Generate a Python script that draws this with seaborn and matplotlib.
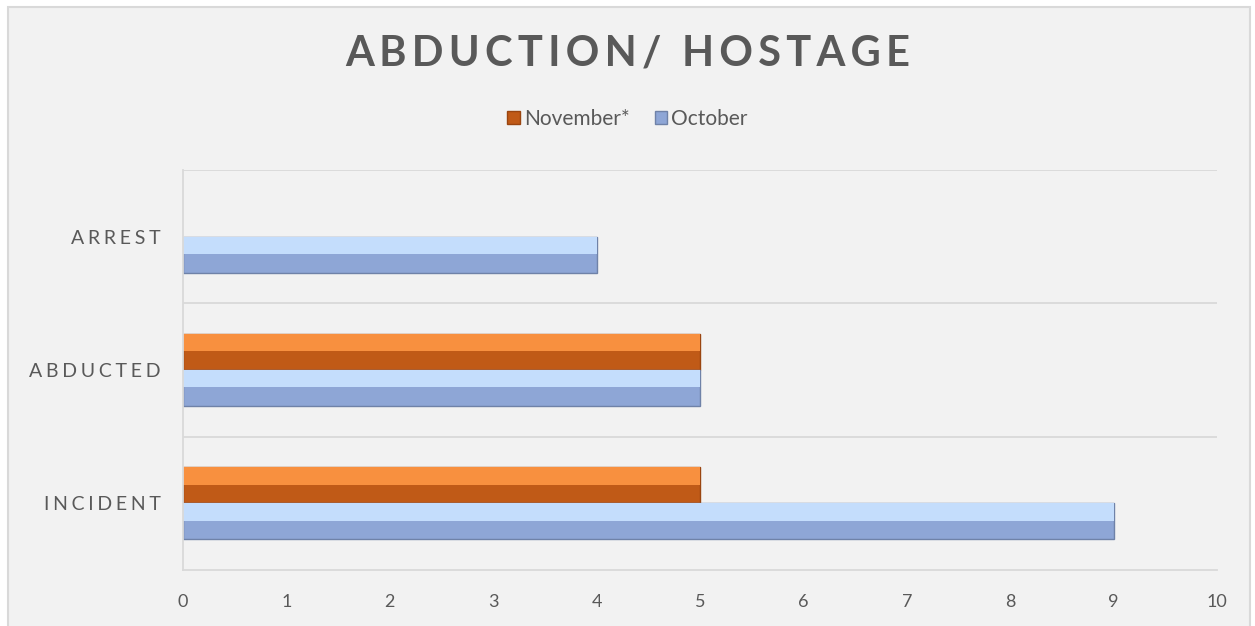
import matplotlib
matplotlib.use("Agg")
import matplotlib.pyplot as plt
import matplotlib.patches as mpatches
import seaborn as sns
import pandas as pd

# données
categories = ["ARREST", "ABDUCTED", "INCIDENT"]
series_names = ["November*", "October"]
november = [0, 5, 5]
october = [4, 5, 9]
x_ticks = list(range(0, 11))

df = pd.DataFrame({
    "cat": categories * 2,
    "mois": [series_names[0]] * 3 + [series_names[1]] * 3,
    "val": november + october,
})

base_cols = {"November*": "#C05A17", "October": "#8EA6D6"}
light_cols = {"November*": "#F8903F", "October": "#C4DDFC"}
edge_cols = {"November*": "#9A4510", "October": "#6F82A8"}

sns.set_style("white")
plt.rcParams["font.family"] = ["Lato", "DejaVu Sans"]

fig = plt.figure(figsize=(12.55, 6.26), dpi=100, facecolor="white")
# cadre du graphique (fond gris, bordure claire)
fig.add_artist(mpatches.Rectangle((8 / 1255, -0.01), (1250 - 8) / 1255, 1 - 7 / 626 + 0.01,
                                  transform=fig.transFigure, facecolor="#F2F2F2",
                                  edgecolor="#D9D9D9", lw=1.5, zorder=-10))

ax = fig.add_axes([183 / 1255, 1 - 570 / 626, (1217 - 183) / 1255, 400 / 626])
ax.set_facecolor("none")

sns.barplot(data=df, x="val", y="cat", hue="mois", hue_order=series_names,
            order=categories, palette=base_cols, width=0.54, orient="h",
            ax=ax, legend=False, saturation=1)

# effet biseauté : bande claire en haut de chaque barre
n = len(categories)
for i, p in enumerate(list(ax.patches)):
    key = series_names[i // n]
    w = p.get_width()
    if w <= 0:
        p.set_visible(False)
        continue
    p.set_edgecolor(edge_cols[key])
    p.set_linewidth(1.0)
    x0, y0, h = p.get_x(), p.get_y(), p.get_height()
    ax.add_patch(mpatches.Rectangle((x0, y0), w, h * 0.48,
                                    facecolor=light_cols[key], edgecolor="none",
                                    zorder=p.get_zorder() + 0.1))

ax.set_xlim(0, 10)
ax.set_ylim(2.5, -0.5)
ax.set_xticks(x_ticks)
ax.set_xticklabels([str(t) for t in x_ticks], fontsize=13, color="#595959")
ax.set_yticks(range(n))
ax.set_yticklabels(["\u2009\u200a".join(c) for c in categories], fontsize=14, color="#595959")
ax.tick_params(axis="y", length=0, pad=16)
ax.tick_params(axis="x", length=0, pad=17)
ax.set_xlabel("")
ax.set_ylabel("")

for yy in [-0.5, 0.5, 1.5]:
    ax.axhline(yy, color="#D9D9D9", lw=1.3, zorder=0)
for s in ["top", "right"]:
    ax.spines[s].set_visible(False)
ax.spines["left"].set_color("#D9D9D9")
ax.spines["bottom"].set_color("#D9D9D9")
ax.spines["left"].set_linewidth(1.3)
ax.spines["bottom"].set_linewidth(1.3)

fig.text(0.5, 1 - 54 / 626, "\u2009".join("ABDUCTION/") + "\u2009\u2009 " + "\u2009".join("HOSTAGE"),
         ha="center", va="center", fontsize=30, fontweight="bold", color="#595959")

handles = [mpatches.Patch(facecolor=base_cols[s], edgecolor=edge_cols[s]) for s in series_names]
fig.legend(handles, series_names, loc="center", bbox_to_anchor=(0.5, 1 - 119 / 626),
           ncol=2, frameon=False, fontsize=15, handlelength=0.6, handleheight=0.6,
           handletextpad=0.2, columnspacing=1.2, labelcolor="#595959")

fig.savefig("out.png", dpi=100, facecolor="white")
